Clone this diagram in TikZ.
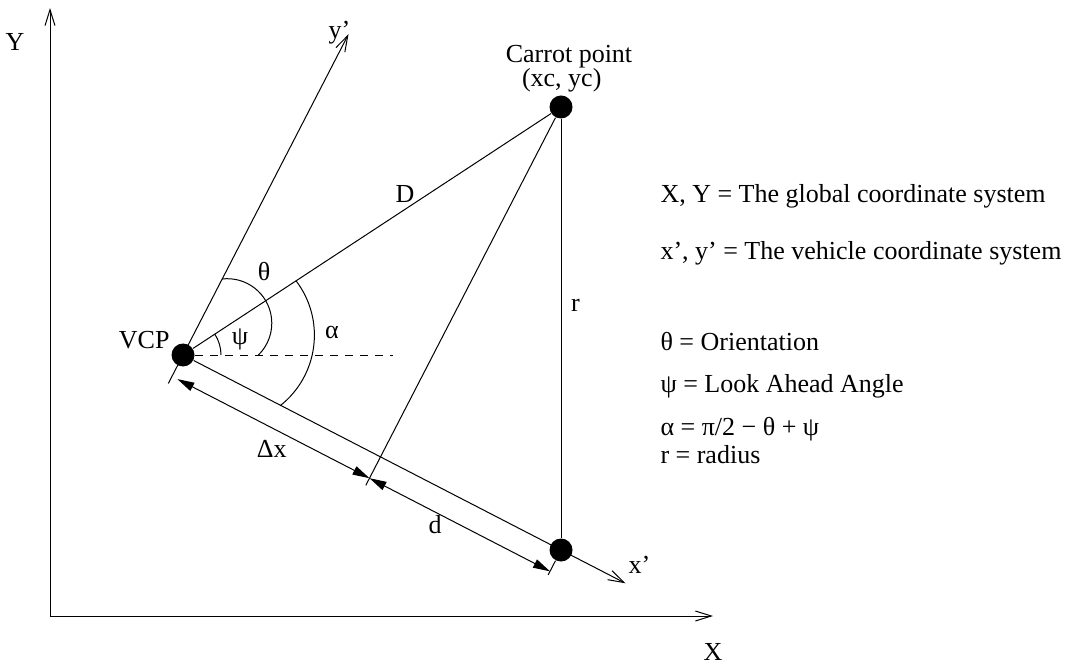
\documentclass[tikz,border=0pt]{standalone}
\usepackage{fontspec}
\setmainfont{Liberation Serif}
\usetikzlibrary{arrows.meta,calc,positioning}
\tikzstyle{dot} = [circle, fill=black, inner sep=0pt, minimum size=11.5pt]
\tikzstyle{lbl} = [inner sep=0pt, font=\fontsize{13}{15}\selectfont]
\tikzstyle{note} = [lbl, anchor=base west]
\tikzstyle{axis} = [-{Straight Barb[length=8pt,width=5pt]}]
\tikzstyle{dim} = [{Triangle[length=8.5pt,width=4.5pt]}-{Triangle[length=8.5pt,width=4.5pt]}]

\begin{document}
\begin{tikzpicture}[x=0.5pt, y=0.5pt, line width=0.5pt]
    \useasboundingbox (0,0) rectangle (1068,664);
    % Global frame
    \coordinate (origin) at (50,48);
    \coordinate (xend) at (713,48);
    \coordinate (yend) at (50,656);
    \draw [axis] (origin) -- (xend);
    \draw [axis] (origin) -- (yend);
    \node [lbl] (X) at (713,12) {X};
    \node [lbl] (Y) at (15,622) {Y};

    % Points
    \node [dot] (vcp) at (183,309) {};
    \node [dot] (carrot) at (561,557) {};
    \node [dot] (xpt) at (561,114) {};
    \coordinate (foot) at ($(vcp)!(carrot)!(xpt)$);
    \coordinate (xpend) at ($(vcp)+(-27.29:498)$);
    \coordinate (ypend) at ($(vcp)+(62.71:361)$);
    \coordinate (ypback) at ($(vcp)+(242.71:32)$);
    \coordinate (footback) at ($(foot)+(242.71:32)$);
    \coordinate (xptback) at ($(xpt)+(242.71:28)$);
    \coordinate (horiz) at (393,309);

    % Vehicle frame and construction lines
    \draw [axis] (ypback) -- (ypend);
    \draw [axis] (vcp) -- (xpend);
    \draw (vcp) -- (carrot);
    \draw (carrot) -- (xpt);
    \draw (carrot) -- (footback);
    \draw (xptback) -- (xpt);
    \draw [dash pattern=on 4pt off 3.5pt] (vcp) -- (horiz);

    % Dimensions
    \coordinate (dim1) at ($(vcp)+(242.71:24)+(-27.29:6)$);
    \coordinate (dim2) at ($(foot)+(242.71:24)$);
    \coordinate (dim3) at ($(xpt)+(242.71:24)$);
    \draw [dim] (dim1) -- (dim2);
    \draw [dim] (dim2) -- (dim3);

    % Angles
    \draw ([shift={(97.2:44.5)}]227.3,340.8) arc[start angle=97.2, end angle=-45.7, radius=44.5];
    \draw ([shift={(37.5:89.7)}]224.7,328.8) arc[start angle=37.5, end angle=-51.9, radius=89.7];
    \draw ([shift={(33.34:38)}]vcp.center) arc[start angle=33.34, end angle=0, radius=38];

    % Labels
    \node [lbl] (theta) at (264,392) {θ};
    \node [lbl] (psi) at (240,325) {ψ};
    \node [lbl] (alpha) at (332,332) {α};
    \node [lbl, anchor=base] (D) at (405,461) {D};
    \node [lbl, anchor=base] (r) at (575.5,352) {r};
    \node [lbl] (dx) at (271.7,215) {Δx};
    \node [lbl] (d) at (435,139) {d};
    \node [lbl, anchor=base west] (yp) at (328,625) {y’};
    \node [lbl, anchor=base west] (xp) at (628,91) {x’};
    \node [lbl, anchor=base east] (vcplbl) at (170,315) {VCP};
    \node [lbl, anchor=base] (carrot1) at (569,601) {Carrot point};
    \node [lbl, anchor=base] (carrot2) at (561.7,577) {(xc, yc)};

    % Legend
    \node [note] (leg1) at (660,461) {X, Y = The global coordinate system};
    \node [note] (leg2) at (660,404) {x’, y’ = The vehicle coordinate system};
    \node [note] (leg3) at (660,314) {θ = Orientation};
    \node [note] (leg4) at (660,271) {ψ = Look Ahead Angle};
    \node [note] (leg5) at (660,229) {α = π/2 − θ + ψ};
    \node [note] (leg6) at (660,201) {r = radius};
\end{tikzpicture}
\end{document}
